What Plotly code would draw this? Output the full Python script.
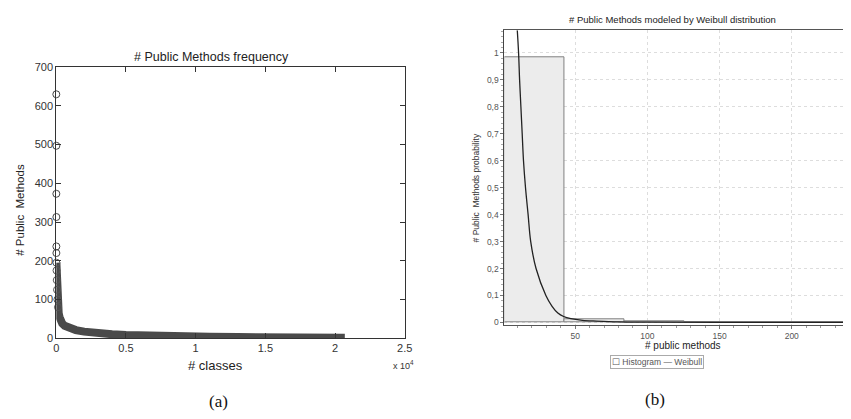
import numpy as np
import plotly.graph_objects as go

W, H = 851, 419

# ---------------- (a) data: public methods per class (sorted) ----------------
outlier_rank = [1, 2, 3, 4, 5, 6]
outlier_methods = [630, 497, 373, 313, 237, 220]

dense_rank = [7, 15, 30, 50, 80, 120, 170, 230, 300, 425, 600, 800, 1000, 1400,
              2000, 2500, 3300, 4000, 5000, 6500, 8000, 9500, 11000, 13000,
              15000, 17000, 19500, 20700]
dense_methods = [195, 175, 150, 125, 100, 80, 65, 55, 47, 38, 32, 28, 25, 21,
                 17, 14, 11, 10, 8, 6, 5, 4.5, 3.5, 3, 2.5, 2, 1.5, 1]

a_xticks = [0, 5000, 10000, 15000, 20000, 25000]
a_xticklabels = ["0", "0.5", "1", "1.5", "2", "2.5"]
a_yticks = [0, 100, 200, 300, 400, 500, 600, 700]

# ---------------- (b) data: histogram + Weibull fit ----------------
bin_edges = [1, 42.6, 84.1, 125.7, 167.2, 208.8, 250.3]
hist_prob = [0.985, 0.011, 0.0025, 0.002, 0.002, 0.0006]

weibull_x = [9.9, 10.8, 11.5, 12.4, 13.3, 14.2, 15.6, 17.4, 19.2, 22.9, 29.7,
             34, 38, 42, 47, 55, 65, 80, 100, 150, 236]
weibull_y = [1.084, 1.0, 0.9, 0.8, 0.7, 0.6, 0.5, 0.4, 0.3, 0.2, 0.1,
             0.06, 0.035, 0.022, 0.014, 0.008, 0.005, 0.002, 0.001, 0.0003, 0.0001]

b_yticks = [0, 0.1, 0.2, 0.3, 0.4, 0.5, 0.6, 0.7, 0.8, 0.9, 1.0]
b_yticklabels = ["0", "0,1", "0,2", "0,3", "0,4", "0,5", "0,6", "0,7", "0,8", "0,9", "1"]
b_xticks = [50, 100, 150, 200]

edges = np.array(bin_edges)
centers = (edges[:-1] + edges[1:]) / 2
widths = edges[1:] - edges[:-1]

def px(x):
    return x / W

def py(y):
    return 1 - y / H

fig = go.Figure()

# (a) traces
fig.add_trace(go.Scatter(
    x=dense_rank, y=dense_methods, mode="lines",
    line=dict(color="#4a4a4a", width=8),
    xaxis="x", yaxis="y", cliponaxis=False, showlegend=False))
fig.add_trace(go.Scatter(
    x=dense_rank[:6], y=dense_methods[:6], mode="markers",
    marker=dict(symbol="circle-open", size=7, color="#555555", line=dict(width=1)),
    xaxis="x", yaxis="y", cliponaxis=False, showlegend=False))
fig.add_trace(go.Scatter(
    x=outlier_rank, y=outlier_methods, mode="markers",
    marker=dict(symbol="circle-open", size=7, color="#444444", line=dict(width=1)),
    xaxis="x", yaxis="y", cliponaxis=False, showlegend=False))

# (b) traces
fig.add_trace(go.Bar(
    x=centers, y=hist_prob, width=widths,
    marker=dict(color="#ececec", line=dict(color="#808080", width=1)),
    xaxis="x2", yaxis="y2", showlegend=False))
fig.add_trace(go.Scatter(
    x=weibull_x, y=weibull_y, mode="lines",
    line=dict(color="#222222", width=1.3, shape="spline"),
    xaxis="x2", yaxis="y2", showlegend=False))

axis_font_a = dict(family="Liberation Sans", size=11, color="#333333")
axis_font_b = dict(family="Liberation Sans", size=8.5, color="#555555")

fig.update_layout(
    autosize=True,
    margin=dict(l=0, r=0, t=0, b=0),
    paper_bgcolor="white", plot_bgcolor="white",
    bargap=0,
    xaxis=dict(domain=[px(54), px(407)], range=[0, 25000],
               tickvals=a_xticks, ticktext=a_xticklabels,
               ticks="inside", ticklen=5, tickcolor="#333",
               showline=True, linecolor="#333", linewidth=1, mirror="ticks",
               showgrid=False, zeroline=False, tickfont=axis_font_a),
    yaxis=dict(domain=[py(342), py(63)], range=[0, 700],
               tickvals=a_yticks,
               ticks="inside", ticklen=5, tickcolor="#333",
               showline=True, linecolor="#333", linewidth=1, mirror="ticks",
               showgrid=False, zeroline=False, tickfont=axis_font_a,
               anchor="x"),
    xaxis2=dict(domain=[px(508), 1.0], range=[1, 235.5], anchor="y2",
                tickvals=b_xticks, ticks="outside", ticklen=3, tickcolor="#777",
                minor=dict(ticks="outside", ticklen=2, dtick=10, tickcolor="#999",
                           showgrid=False),
                showline=True, linecolor="#555", linewidth=1.2, mirror=True,
                showgrid=True, gridcolor="#dddddd", griddash="dot", gridwidth=1,
                zeroline=False, tickfont=axis_font_b),
    yaxis2=dict(domain=[py(328), py(25)], range=[-0.008, 1.084], anchor="x2",
                tickvals=b_yticks, ticktext=b_yticklabels,
                ticks="outside", ticklen=3, tickcolor="#777",
                minor=dict(ticks="outside", ticklen=2, dtick=0.02, tickcolor="#aaa",
                           showgrid=False),
                showline=True, linecolor="#444", linewidth=1,
                showgrid=True, gridcolor="#dddddd", griddash="dot", gridwidth=1,
                zeroline=False, tickfont=axis_font_b),
)

ann = []
def A(text, x, y, size, family="Liberation Sans", color="#333", angle=0, **kw):
    ann.append(dict(text=text, x=px(x), y=py(y), xref="paper", yref="paper",
                    showarrow=False, xanchor="center", yanchor="middle",
                    textangle=angle, font=dict(family=family, size=size, color=color), **kw))

A("# Public Methods frequency", 211, 52, 12.5, color="#222")
A("# classes", 215, 370, 13, color="#222")
A("x 10<sup>4</sup>", 406, 370, 9, color="#333")
A("# Public  Methods", 17, 210, 11.5, color="#222", angle=-90)
A("(a)", 218, 407, 17, family="Liberation Serif", color="#111")

A("# Public Methods modeled by Weibull distribution", 678, 14, 9.5, color="#222")
A("# public methods", 689, 350, 10, color="#222")
A("# Public  Methods probability", 479, 187, 8.5, color="#333", angle=-90)
A("☐ Histogram — Weibull", 663, 367, 8.5, color="#555",
  bordercolor="#aaaaaa", borderwidth=1, borderpad=1)
A("(b)", 661, 405, 17, family="Liberation Serif", color="#111")

fig.update_layout(annotations=ann)

fig.write_html("out.html", default_width="100%", default_height="100%",
               config={"displayModeBar": False, "responsive": True})

# remove default page margins so the figure fills the window exactly
with open("out.html", "r", encoding="utf-8") as f:
    html = f.read()
html = html.replace(
    "<head>",
    "<head><style>html,body{margin:0;padding:0;width:100%;height:100%;overflow:hidden;}"
    "body>div{width:100%;height:100%;}</style>", 1)
with open("out.html", "w", encoding="utf-8") as f:
    f.write(html)
